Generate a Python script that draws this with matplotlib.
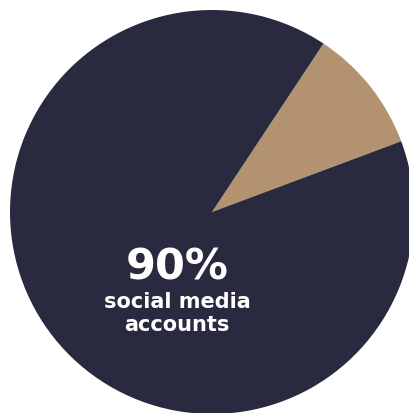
import matplotlib
matplotlib.use("Agg")
import matplotlib.pyplot as plt

labels = ["other", "social media accounts"]
shares = [10, 90]
colors = ["#b3936f", "#29293f"]

W, H = 410, 413

fig = plt.figure(figsize=(W / 100, H / 100), dpi=100)
ax = fig.add_axes([0, 0, 1, 1])

ax.pie(shares, colors=colors, startangle=20.5, counterclock=True,
       center=(212, H - 212), radius=202, frame=True,
       wedgeprops=dict(linewidth=0))
ax.set_xlim(0, W)
ax.set_ylim(0, H)
ax.set_aspect("equal")
ax.axis("off")

font = ["DejaVu Sans"]
ax.text(177, H - 267, f"{shares[1]}%", color="white", fontsize=31,
        fontweight="bold", ha="center", va="center", family=font)
ax.text(177, H - 302, "social media", color="white", fontsize=15,
        fontweight="bold", ha="center", va="center", family=font)
ax.text(177, H - 325, "accounts", color="white", fontsize=15,
        fontweight="bold", ha="center", va="center", family=font)

fig.savefig("out.png", dpi=100)
